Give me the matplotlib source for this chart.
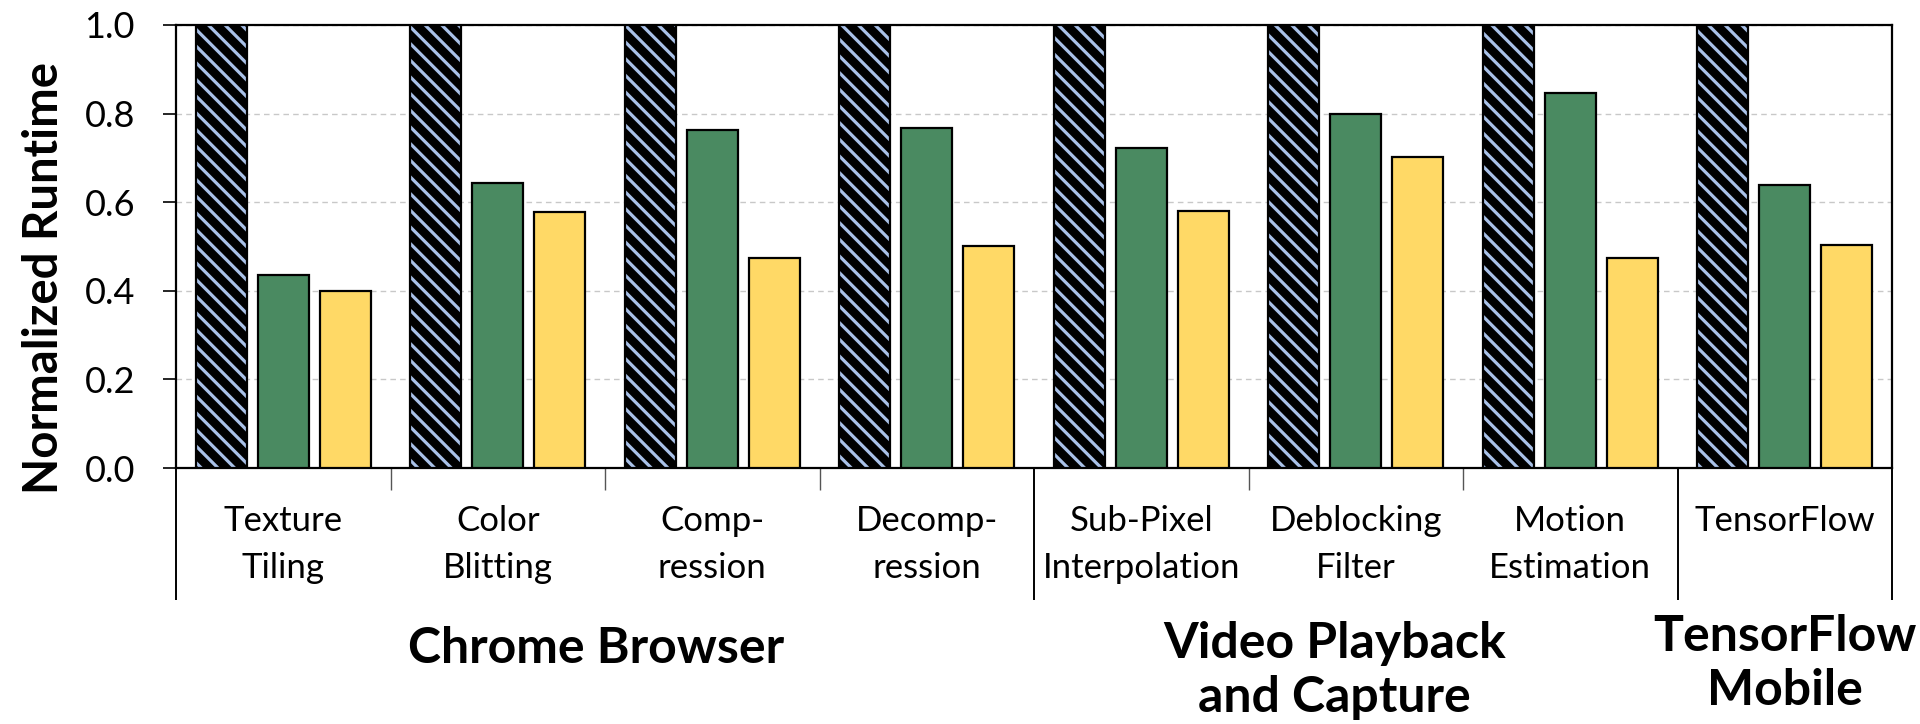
"""Normalized runtime per kernel, grouped by workload."""

import matplotlib

matplotlib.use("Agg")
import matplotlib.pyplot as plt
import matplotlib.transforms as mtransforms

plt.rcParams["font.family"] = ["Lato", "DejaVu Sans"]
plt.rcParams["hatch.linewidth"] = 2.3

# data
categories = [
    ("Texture", "Tiling"),
    ("Color", "Blitting"),
    ("Comp-", "ression"),
    ("Decomp-", "ression"),
    ("Sub-Pixel", "Interpolation"),
    ("Deblocking", "Filter"),
    ("Motion", "Estimation"),
    ("TensorFlow", ""),
]
baseline = [1.0, 1.0, 1.0, 1.0, 1.0, 1.0, 1.0, 1.0]
green_vals = [0.436, 0.644, 0.762, 0.768, 0.723, 0.798, 0.847, 0.638]
yellow_vals = [0.400, 0.577, 0.475, 0.501, 0.581, 0.703, 0.475, 0.504]
workloads = ["Chrome Browser", "Video Playback\nand Capture", "TensorFlow\nMobile"]
workload_x = [1.96, 5.40, 7.5]
workload_y = [-0.407, -0.457, -0.442]
long_seps = [0, 4, 7, 8]
short_seps = [1, 2, 3, 5, 6]

fig = plt.figure(figsize=(19.2, 7.24), dpi=100)
ax = fig.add_axes([176 / 1920, 1 - 468 / 724, 1716 / 1920, 443 / 724])

x = [i + 0.5 for i in range(len(categories))]
off = 0.29
w = 0.238

# hatched baseline: black face with light blue stripes, black outline on top
ax.bar([v - off for v in x], baseline, w, facecolor="black",
       edgecolor="#a9c1e8", hatch="\\\\", linewidth=0, zorder=3)
ax.bar([v - off for v in x], baseline, w, fill=False,
       edgecolor="black", linewidth=1.6, zorder=4)
ax.bar(x, green_vals, w, color="#4a8a61", edgecolor="black",
       linewidth=1.6, zorder=3)
ax.bar([v + off for v in x], yellow_vals, w, color="#ffd966",
       edgecolor="black", linewidth=1.6, zorder=3)

ax.set_xlim(0, len(categories))
ax.set_ylim(0, 1.0)
ax.set_yticks([0.0, 0.2, 0.4, 0.6, 0.8, 1.0])
ax.set_yticklabels([f"{t:.1f}" for t in ax.get_yticks()])
ax.tick_params(axis="y", direction="out", length=9.5, width=1.2,
               pad=20, labelsize=26)
ax.yaxis.grid(True, linestyle=(0, (4, 3)), color="#c8c8c8", linewidth=1.0,
              zorder=0)
ax.set_axisbelow(True)
for s in ax.spines.values():
    s.set_linewidth(1.6)

# separators under the axis: long ones between workloads, short between kernels
ax.set_xticks(long_seps)
ax.set_xticks(short_seps, minor=True)
ax.set_xticklabels([])
ax.tick_params(axis="x", which="major", direction="out", length=95,
               width=1.4)
ax.tick_params(axis="x", which="minor", direction="out", length=16,
               width=1.0, color="#555555")

trans = mtransforms.blended_transform_factory(ax.transData, ax.transAxes)
for xi, (l1, l2) in zip(x, categories):
    ax.text(xi, -0.142, l1, transform=trans, ha="center", va="baseline",
            fontsize=25)
    ax.text(xi, -0.248, l2, transform=trans, ha="center", va="baseline",
            fontsize=25)

for name, gx, gy in zip(workloads, workload_x, workload_y):
    ax.text(gx, gy, name, transform=trans, ha="center", va="center",
            fontsize=36, fontweight="bold", linespacing=1.25)

ax.text(-0.077, 0.43, "Normalized Runtime", transform=ax.transAxes,
        rotation=90, ha="center", va="center", fontsize=34,
        fontweight="bold")

fig.savefig("out.png", dpi=100)
